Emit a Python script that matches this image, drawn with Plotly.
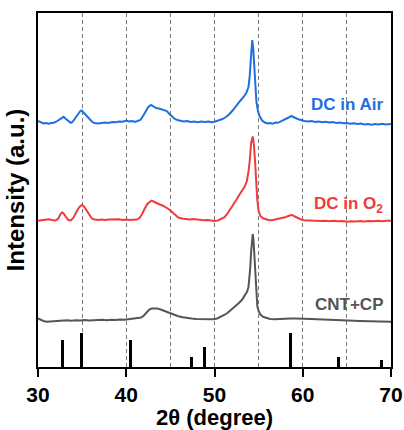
import plotly.graph_objects as go

# XRD patterns (2-theta in degrees, intensity in a.u., stacked with vertical offsets)
tt_air = [30.0, 30.3, 30.6, 30.9, 31.2, 31.5, 31.8, 32.1, 32.4, 32.7, 32.9, 33.1, 33.4, 33.7, 33.9,
          34.2, 34.5, 34.8, 34.95, 35.2, 35.5, 35.8, 36.1, 36.4, 36.8, 37.2, 37.6, 38.0, 38.4, 38.8,
          39.2, 39.6, 40.0, 40.3, 40.7, 41.0, 41.3, 41.6, 41.9, 42.2, 42.5, 42.8, 43.1, 43.4, 43.7,
          44.0, 44.3, 44.6, 44.9, 45.2, 45.5, 45.8, 46.1, 46.5, 46.9, 47.3, 47.7, 48.1, 48.5, 48.9,
          49.3, 49.7, 50.1, 50.5, 50.9, 51.3, 51.7, 52.1, 52.5, 52.9, 53.3, 53.6, 53.85, 54.0, 54.15,
          54.28, 54.4, 54.5, 54.62, 54.75, 54.9, 55.1, 55.4, 55.7, 56.0, 56.3, 56.6, 56.9, 57.2, 57.5,
          57.8, 58.1, 58.4, 58.7, 59.0, 59.3, 59.6, 59.9, 60.2, 60.6, 61.0, 61.4, 61.8, 62.2, 62.6,
          63.0, 63.4, 63.8, 64.2, 64.6, 65.0, 65.4, 65.8, 66.2, 66.6, 67.0, 67.4, 67.8, 68.2, 68.6,
          69.0, 69.4, 70.0]
int_air = [246, 244.5, 243.5, 244, 243.2, 244, 244.2, 245.5, 247.5, 249.5, 250.2, 248.5, 246, 244.2, 245,
           249, 253, 256, 256.5, 254, 250.5, 247.5, 245.5, 244, 243.5, 244, 244.5, 244, 245, 244.7,
           245.5, 245.2, 246.5, 245.5, 246, 245, 246, 247, 251, 256, 260, 262, 260.5, 259, 258.5,
           257.5, 257, 256, 253, 250, 248, 247, 246.5, 245.5, 246, 245, 245.5, 244.7, 245.5, 245,
           245.5, 244.7, 245.5, 246.5, 248, 250, 253, 257, 262, 266, 270, 274, 280, 292, 312,
           327, 317, 299, 279, 265, 257, 251, 246.5, 244.5, 243.5, 244, 243.2, 244.5, 244.2, 245.5,
           246.5, 247.5, 249.5, 251, 249.5, 248.5, 247.5, 246.5, 246, 245.5, 246, 245, 245.5, 244.7, 245.2,
           244.5, 245, 244, 244.5, 243.7, 244, 243.2, 243.7, 243, 243.5, 242.5, 243, 242.2, 243, 242.5,
           243.2, 242.5, 243]

tt_o2 = [30.0, 30.4, 30.8, 31.2, 31.6, 32.0, 32.3, 32.55, 32.75, 32.95, 33.2, 33.45, 33.7, 34.0, 34.3,
         34.6, 34.85, 35.0, 35.25, 35.5, 35.8, 36.1, 36.4, 36.8, 37.2, 37.6, 38.0, 38.4, 38.8, 39.2,
         39.6, 40.0, 40.4, 40.8, 41.2, 41.5, 41.8, 42.1, 42.4, 42.7, 42.9, 43.2, 43.5, 43.8, 44.1,
         44.4, 44.7, 45.0, 45.3, 45.6, 45.9, 46.3, 46.8, 47.2, 47.6, 48.0, 48.4, 48.8, 49.2, 49.6,
         50.0, 50.4, 50.8, 51.1, 51.4, 51.8, 52.1, 52.5, 52.8, 53.1, 53.4, 53.65, 53.85, 54.0, 54.15,
         54.33, 54.47, 54.6, 54.72, 54.85, 55.0, 55.2, 55.5, 55.8, 56.1, 56.5, 56.9, 57.3, 57.7, 58.1,
         58.5, 58.8, 59.1, 59.4, 59.7, 60.1, 60.5, 61.0, 61.5, 62.0, 62.5, 63.0, 63.5, 64.0, 64.5,
         65.0, 65.5, 66.0, 66.5, 67.0, 67.5, 68.0, 68.5, 69.0, 69.5, 70.0]
int_o2 = [146.3, 147, 147.5, 147.7, 147, 146.5, 148.5, 153, 154.7, 153, 149.5, 147, 146.5, 149, 154,
          159, 161.5, 162, 160, 156.5, 152, 148.5, 147.5, 147, 147.5, 147, 147.5, 147.7, 147.2, 147.7,
          147, 147.5, 147, 147.5, 147.5, 149, 153, 158.5, 163, 165.5, 166.3, 165, 163.5, 162.5, 161.5,
          160.3, 158.5, 156.5, 154, 151.5, 149.5, 148.5, 148, 147.5, 148, 147.5, 147, 146.7, 147, 146.5,
          146, 146.5, 148, 149.5, 152.5, 157.5, 162, 167.5, 172, 175.5, 180, 185.5, 195, 207, 224,
          230.5, 222, 205, 185, 167, 156, 151, 148.7, 147.5, 147, 146.7, 147.5, 148, 148.7, 150,
          151.5, 152, 150.5, 149, 148, 146.7, 146.5, 146.2, 146.5, 146, 146.3, 145.8, 146.2, 145.7, 146,
          145.3, 145.8, 145.5, 146, 145.5, 146, 145.7, 146.2, 145.8, 146.3, 146.3]

tt_cp = [30.0, 30.3, 30.6, 31.0, 31.4, 31.8, 32.3, 32.8, 33.3, 33.8, 34.3, 34.8, 35.3, 35.8, 36.3,
         36.8, 37.3, 37.8, 38.3, 38.8, 39.3, 39.8, 40.3, 40.8, 41.3, 41.7, 42.0, 42.3, 42.6, 42.9,
         43.2, 43.5, 43.9, 44.3, 44.7, 45.1, 45.5, 45.9, 46.4, 46.9, 47.4, 47.9, 48.4, 48.9, 49.4,
         49.9, 50.3, 50.7, 51.1, 51.5, 51.9, 52.3, 52.7, 53.1, 53.4, 53.7, 53.85, 53.95, 54.05, 54.15,
         54.25, 54.33, 54.42, 54.52, 54.62, 54.72, 54.85, 55.0, 55.2, 55.5, 55.9, 56.3, 56.8, 57.4, 58.0,
         58.6, 59.2, 59.8, 60.4, 61.0, 61.6, 62.2, 62.8, 63.4, 64.0, 64.6, 65.2, 65.8, 66.4, 67.0,
         67.6, 68.2, 68.8, 69.4, 70.0]
int_cp = [48.7, 47, 46, 45.3, 45.5, 46.2, 45.8, 46.5, 46.7, 46.2, 46.8, 46.5, 47, 46.6, 47,
          46.7, 47.2, 46.8, 47.3, 47, 47.5, 47.2, 47.7, 48, 48.5, 49.5, 51.5, 55, 57.5, 58.5,
          58.8, 58.6, 57.5, 56.2, 54.7, 53.2, 51.8, 50.7, 49.7, 48.8, 48.4, 48, 47.8, 47.6, 47.6,
          47.8, 48.5, 50, 52, 54.2, 57, 60, 63.5, 67, 71, 75.5, 80, 87, 99, 115,
          129, 133, 127, 111, 89, 70, 61, 56, 52.5, 50.2, 48.8, 48, 47.7, 47.7, 48,
          48.4, 48.5, 48.5, 48.2, 48, 47.7, 47.6, 47.4, 47.3, 47, 46.7, 46.5, 46.3, 46.1, 45.9,
          45.7, 45.5, 45.5, 45.3, 45.3]

# Reference pattern (stick positions and relative heights)
ref_tt = [32.8, 34.95, 40.5, 47.35, 48.9, 58.6, 64.05, 68.9]
ref_int = [27, 34, 27, 10, 20, 34, 10, 7]

series_names = ["DC in Air", "DC in O<sub>2</sub>", "CNT+CP"]
series_colors = ["#1f6fe0", "#ef3b3b", "#555555"]
label_y = [263, 162, 63]

FONT = "Liberation Sans, Arial"

fig = go.Figure()
fig.add_trace(go.Bar(x=ref_tt, y=ref_int, width=0.32, marker=dict(color="black", line=dict(width=0)),
                     showlegend=False))
for tt, inten, col in zip([tt_air, tt_o2, tt_cp], [int_air, int_o2, int_cp], series_colors):
    fig.add_trace(go.Scatter(x=tt, y=inten, mode="lines", line=dict(color=col, width=2),
                             showlegend=False))

for name, col, yy in zip(series_names, series_colors, label_y):
    fig.add_annotation(x=69.35, y=yy, xref="x", yref="y", text=name, showarrow=False,
                       xanchor="right", yanchor="middle",
                       font=dict(family=FONT, size=17, color=col, weight="bold"))

fig.update_layout(
    width=404, height=430,
    margin=dict(l=38, r=13, t=13, b=63),
    plot_bgcolor="white", paper_bgcolor="white",
    font=dict(family=FONT, color="black"),
    bargap=0,
)
fig.update_xaxes(
    range=[30, 70], dtick=10, tick0=30, automargin=False,
    showline=True, linewidth=2, linecolor="black", mirror=True,
    ticks="outside", ticklen=8, tickwidth=2, tickcolor="black",
    tickfont=dict(size=21, weight="bold"),
    showgrid=True, gridcolor="#7a7a7a", gridwidth=1, griddash="4px,3px",
    minor=dict(dtick=5, tick0=30, showgrid=True, gridcolor="#7a7a7a", gridwidth=1, griddash="4px,3px"),
    zeroline=False,
    title=dict(text="2θ (degree)", font=dict(size=22, weight="bold"), standoff=3),
)
fig.update_yaxes(
    range=[0, 354], showticklabels=False, ticks="", showgrid=False, zeroline=False, automargin=False,
    showline=True, linewidth=2, linecolor="black", mirror=True,
    title=dict(text="Intensity (a.u.)", font=dict(size=24, weight="bold"), standoff=5),
)

fig.write_html("out.html")
